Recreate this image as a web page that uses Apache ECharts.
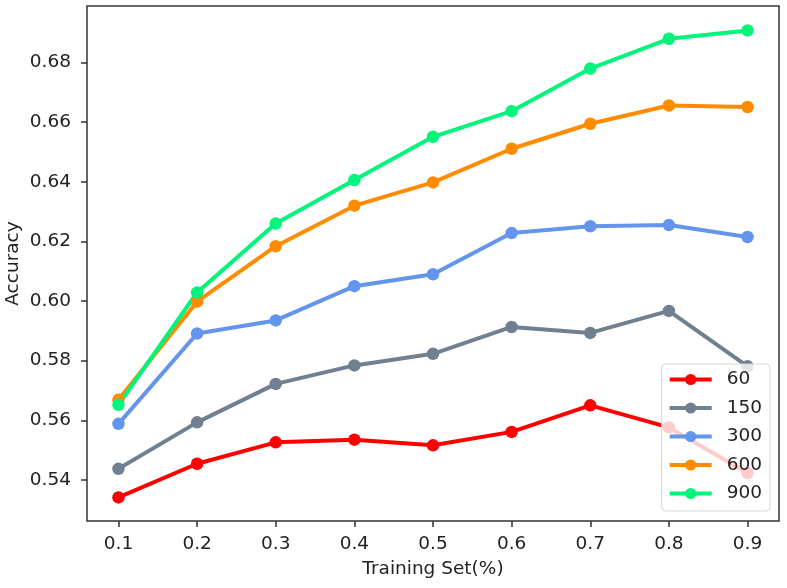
<!DOCTYPE html>
<html>
<head>
<meta charset="utf-8">
<script src="https://cdn.jsdelivr.net/npm/echarts@6/dist/echarts.min.js"></script>
<style>
  html, body { margin: 0; padding: 0; background: #fff; }
  #chart { width: 787px; height: 588px; }
</style>
</head>
<body>
<div id="chart"></div>
<script>
// training set fractions (x) and accuracy for each setting
const trainSet = [0.1, 0.2, 0.3, 0.4, 0.5, 0.6, 0.7, 0.8, 0.9]
const acc60 = [0.5341, 0.5454, 0.5526, 0.5535, 0.5516, 0.5561, 0.5650, 0.5576, 0.5423]
const acc150 = [0.5437, 0.5593, 0.5722, 0.5784, 0.5823, 0.5913, 0.5893, 0.5967, 0.5781]
const acc300 = [0.5588, 0.5891, 0.5935, 0.6050, 0.6090, 0.6228, 0.6251, 0.6255, 0.6215]
const acc600 = [0.5669, 0.5998, 0.6184, 0.6320, 0.6398, 0.6511, 0.6595, 0.6656, 0.6651]
const acc900 = [0.5652, 0.6029, 0.6260, 0.6406, 0.6551, 0.6637, 0.6780, 0.6880, 0.6908]

const seriesNames = ['60', '150', '300', '600', '900']
const xTicks = [0.1, 0.2, 0.3, 0.4, 0.5, 0.6, 0.7, 0.8, 0.9]
const yTicks = [0.54, 0.56, 0.58, 0.60, 0.62, 0.64, 0.66, 0.68]

const colors = ['#ff0000', '#708090', '#6495ed', '#ff8c00', '#00f57a']
const font = 'DejaVu Sans'

const pairs = (ys) => trainSet.map((x, i) => [x, ys[i]])
const allData = [acc60, acc150, acc300, acc600, acc900]

const myChart = echarts.init(document.getElementById('chart'))

myChart.setOption({
  animation: false,
  backgroundColor: '#fff',
  grid: {
    left: 87, right: 8, top: 6, bottom: 67,
    outerBoundsMode: 'none',
    containLabel: false,
    show: true, borderColor: '#333', borderWidth: 1.5,
    backgroundColor: 'transparent'
  },
  xAxis: {
    type: 'value',
    min: 0.06,
    max: 0.94,
    name: 'Training Set(%)',
    nameLocation: 'middle',
    nameGap: 39,
    nameMoveOverlap: false,
    nameTextStyle: { fontFamily: font, fontSize: 18.5, color: '#222' },
    axisLine: { show: false },
    splitLine: { show: false },
    axisTick: { show: true, inside: false, length: 6, lineStyle: { color: '#333', width: 1.5 }, customValues: xTicks },
    axisLabel: {
      fontFamily: font, fontSize: 18.5, color: '#222', margin: 14,
      customValues: xTicks,
      formatter: (v) => v.toFixed(1)
    }
  },
  yAxis: {
    type: 'value',
    min: 0.5262,
    max: 0.699,
    name: 'Accuracy',
    nameLocation: 'middle',
    nameGap: 64,
    nameMoveOverlap: false,
    nameTextStyle: { fontFamily: font, fontSize: 18.5, color: '#222' },
    axisLine: { show: false },
    splitLine: { show: false },
    axisTick: { show: true, inside: false, length: 6, lineStyle: { color: '#333', width: 1.5 }, customValues: yTicks },
    axisLabel: {
      fontFamily: font, fontSize: 18.5, color: '#222', margin: 16,
      customValues: yTicks,
      formatter: (v) => v.toFixed(2)
    }
  },
  legend: {
    orient: 'vertical',
    right: 17,
    bottom: 77,
    padding: [6, 8, 8, 6],
    itemWidth: 42,
    itemHeight: 14,
    itemGap: 9.5,
    backgroundColor: 'rgba(255,255,255,0.8)',
    borderColor: '#d6d6d6',
    borderWidth: 1,
    borderRadius: 4,
    lineStyle: { width: 4 },
    textStyle: { fontFamily: font, fontSize: 18.5, color: '#222', padding: [0, 0, 0, 10] },
    data: seriesNames
  },
  series: seriesNames.map((name, i) => ({
    name,
    type: 'line',
    data: pairs(allData[i]),
    symbol: 'circle',
    symbolSize: 12.5,
    showSymbol: true,
    color: colors[i],
    lineStyle: { width: 4, color: colors[i] },
    itemStyle: { color: colors[i] }
  }))
})
</script>
</body>
</html>
